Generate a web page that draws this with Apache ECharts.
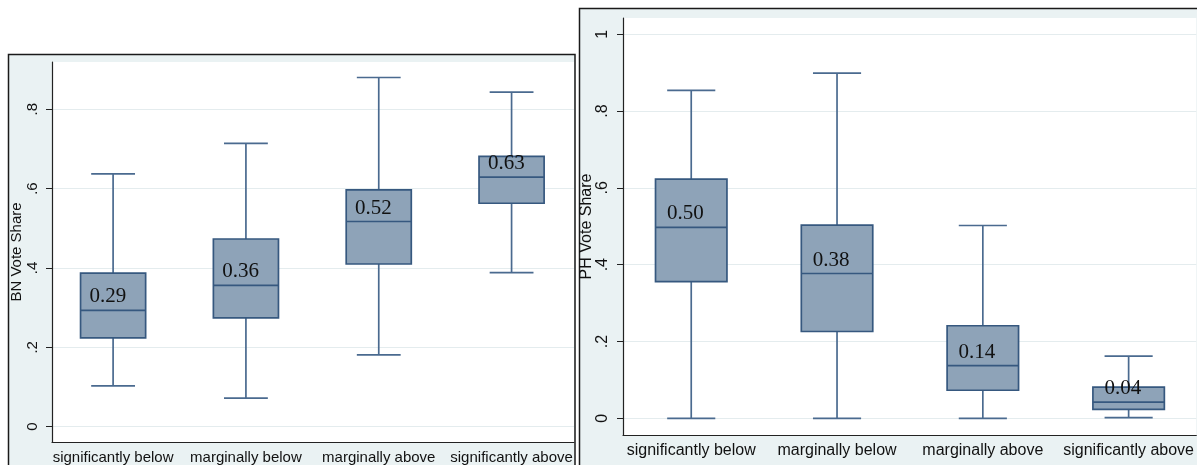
<!DOCTYPE html>
<html>
<head>
<meta charset="utf-8">
<script src="https://cdn.jsdelivr.net/npm/echarts@6/dist/echarts.min.js"></script>
<style>
  html, body { margin: 0; padding: 0; background: #fff; }
  #chart { width: 1197px; height: 465px; }
</style>
</head>
<body>
<div id="chart"></div>
<script>
// Vote-share distributions by category (box: Q1..Q3, line: median, whiskers: adjacent values)
const categories = ['significantly below', 'marginally below', 'marginally above', 'significantly above'];

const bnLower  = [0.103, 0.072, 0.181, 0.388];
const bnQ1     = [0.224, 0.274, 0.410, 0.563];
const bnMedian = [0.293, 0.356, 0.517, 0.629];
const bnQ3     = [0.387, 0.473, 0.597, 0.681];
const bnUpper  = [0.637, 0.714, 0.880, 0.843];

const phLower  = [0.000, 0.000, 0.000, 0.002];
const phQ1     = [0.356, 0.226, 0.073, 0.023];
const phMedian = [0.497, 0.377, 0.137, 0.042];
const phQ3     = [0.623, 0.503, 0.241, 0.081];
const phUpper  = [0.854, 0.899, 0.502, 0.162];

const bnTicks = [0, 0.2, 0.4, 0.6, 0.8];
const phTicks = [0, 0.2, 0.4, 0.6, 0.8, 1];
const catTicks = [0, 1, 2, 3];

const FILL = '#8ea3b8';
const EDGE = '#36587f';
const WHISKER = '#4a6a8f';
const PANEL_BG = '#eaf2f3';
const GRID_LINE = '#e4ecee';
const INK = '#111';

function rows(lo, q1, md, q3, hi) {
  return categories.map((c, i) => [i, lo[i], q1[i], md[i], q3[i], hi[i]]);
}

function fmtShare(v) {
  if (Math.abs(v) < 1e-9) return '0';
  if (Math.abs(v - 1) < 1e-9) return '1';
  return String(+v.toFixed(2)).replace(/^0/, '');
}

function renderBox(params, api) {
  const x = api.value(0);
  const lo = api.coord([x, api.value(1)]);
  const q1 = api.coord([x, api.value(2)]);
  const md = api.coord([x, api.value(3)]);
  const q3 = api.coord([x, api.value(4)]);
  const hi = api.coord([x, api.value(5)]);
  const unit = api.size([1, 0])[0];
  const bw = unit * 0.49;
  const cw = unit * 0.33;
  const cx = md[0];
  const lineStyle = { stroke: WHISKER, lineWidth: 1.7, fill: null };
  return {
    type: 'group',
    children: [
      { type: 'line', shape: { x1: cx, y1: hi[1], x2: cx, y2: q3[1] }, style: lineStyle },
      { type: 'line', shape: { x1: cx, y1: q1[1], x2: cx, y2: lo[1] }, style: lineStyle },
      { type: 'line', shape: { x1: cx - cw / 2, y1: hi[1], x2: cx + cw / 2, y2: hi[1] }, style: lineStyle },
      { type: 'line', shape: { x1: cx - cw / 2, y1: lo[1], x2: cx + cw / 2, y2: lo[1] }, style: lineStyle },
      {
        type: 'rect',
        shape: { x: cx - bw / 2, y: q3[1], width: bw, height: q1[1] - q3[1] },
        style: { fill: FILL, stroke: EDGE, lineWidth: 1.7 }
      },
      { type: 'line', shape: { x1: cx - bw / 2, y1: md[1], x2: cx + bw / 2, y2: md[1] }, style: { stroke: EDGE, lineWidth: 1.7 } },
      {
        type: 'text',
        style: {
          x: cx - unit * 0.04,
          y: md[1] - 3,
          text: api.value(3).toFixed(2),
          fill: INK,
          font: '21px "Liberation Serif", "Times New Roman", serif',
          align: 'center',
          verticalAlign: 'bottom'
        }
      }
    ]
  };
}

function xAxisFor(gridIndex, min, max, fontSize) {
  return {
    type: 'value', gridIndex, min, max,
    axisLine: { show: true, onZero: false, lineStyle: { color: '#222', width: 1.2 } },
    axisTick: { show: false },
    splitLine: { show: false },
    axisLabel: {
      customValues: catTicks,
      formatter: v => categories[Math.round(v)] || '',
      color: INK, fontSize, fontFamily: '"Liberation Sans", Arial, sans-serif', margin: 8
    }
  };
}

function yAxisFor(gridIndex, min, max, ticks, name, fontSize, nameGap) {
  return {
    type: 'value', gridIndex, min, max,
    name, nameLocation: 'middle', nameGap,
    nameTextStyle: { color: INK, fontSize, fontFamily: '"Liberation Sans", Arial, sans-serif' },
    axisLine: { show: true, onZero: false, lineStyle: { color: '#222', width: 1.2 } },
    axisTick: { show: true, customValues: ticks, length: 6, lineStyle: { color: '#222', width: 1 } },
    axisLabel: {
      customValues: ticks, rotate: 90, margin: 12, formatter: fmtShare,
      color: INK, fontSize, fontFamily: '"Liberation Sans", Arial, sans-serif'
    },
    splitLine: { show: true, lineStyle: { color: GRID_LINE, width: 1.2 } }
  };
}

const chart = echarts.init(document.getElementById('chart'), null, { renderer: 'canvas' });
chart.setOption({
  animation: false,
  backgroundColor: '#fff',
  graphic: [
    {
      type: 'rect', z: -10,
      shape: { x: 8.5, y: 54.5, width: 566.5, height: 430 },
      style: { fill: PANEL_BG, stroke: '#1a1a1a', lineWidth: 1.5 }
    },
    {
      type: 'rect', z: -10,
      shape: { x: 579.5, y: 8.5, width: 640, height: 480 },
      style: { fill: PANEL_BG, stroke: '#1a1a1a', lineWidth: 1.5 }
    }
  ],
  grid: [
    { left: 52, top: 62, width: 522, height: 380, show: true, backgroundColor: '#fff', borderWidth: 0 },
    { left: 623, top: 18, width: 574, height: 417, show: true, backgroundColor: '#fff', borderWidth: 0 }
  ],
  xAxis: [
    xAxisFor(0, -0.46, 3.47, 15),
    xAxisFor(1, -0.468, 3.464, 16)
  ],
  yAxis: [
    yAxisFor(0, -0.0386, 0.919, bnTicks, 'BN Vote Share', 15, 26),
    yAxisFor(1, -0.0435, 1.0424, phTicks, 'PH Vote Share', 16, 24)
  ],
  series: [
    {
      type: 'custom', name: 'BN', xAxisIndex: 0, yAxisIndex: 0,
      renderItem: renderBox,
      encode: { x: 0, y: [1, 2, 3, 4, 5] },
      data: rows(bnLower, bnQ1, bnMedian, bnQ3, bnUpper)
    },
    {
      type: 'custom', name: 'PH', xAxisIndex: 1, yAxisIndex: 1,
      renderItem: renderBox,
      encode: { x: 0, y: [1, 2, 3, 4, 5] },
      data: rows(phLower, phQ1, phMedian, phQ3, phUpper)
    }
  ]
});
</script>
</body>
</html>
